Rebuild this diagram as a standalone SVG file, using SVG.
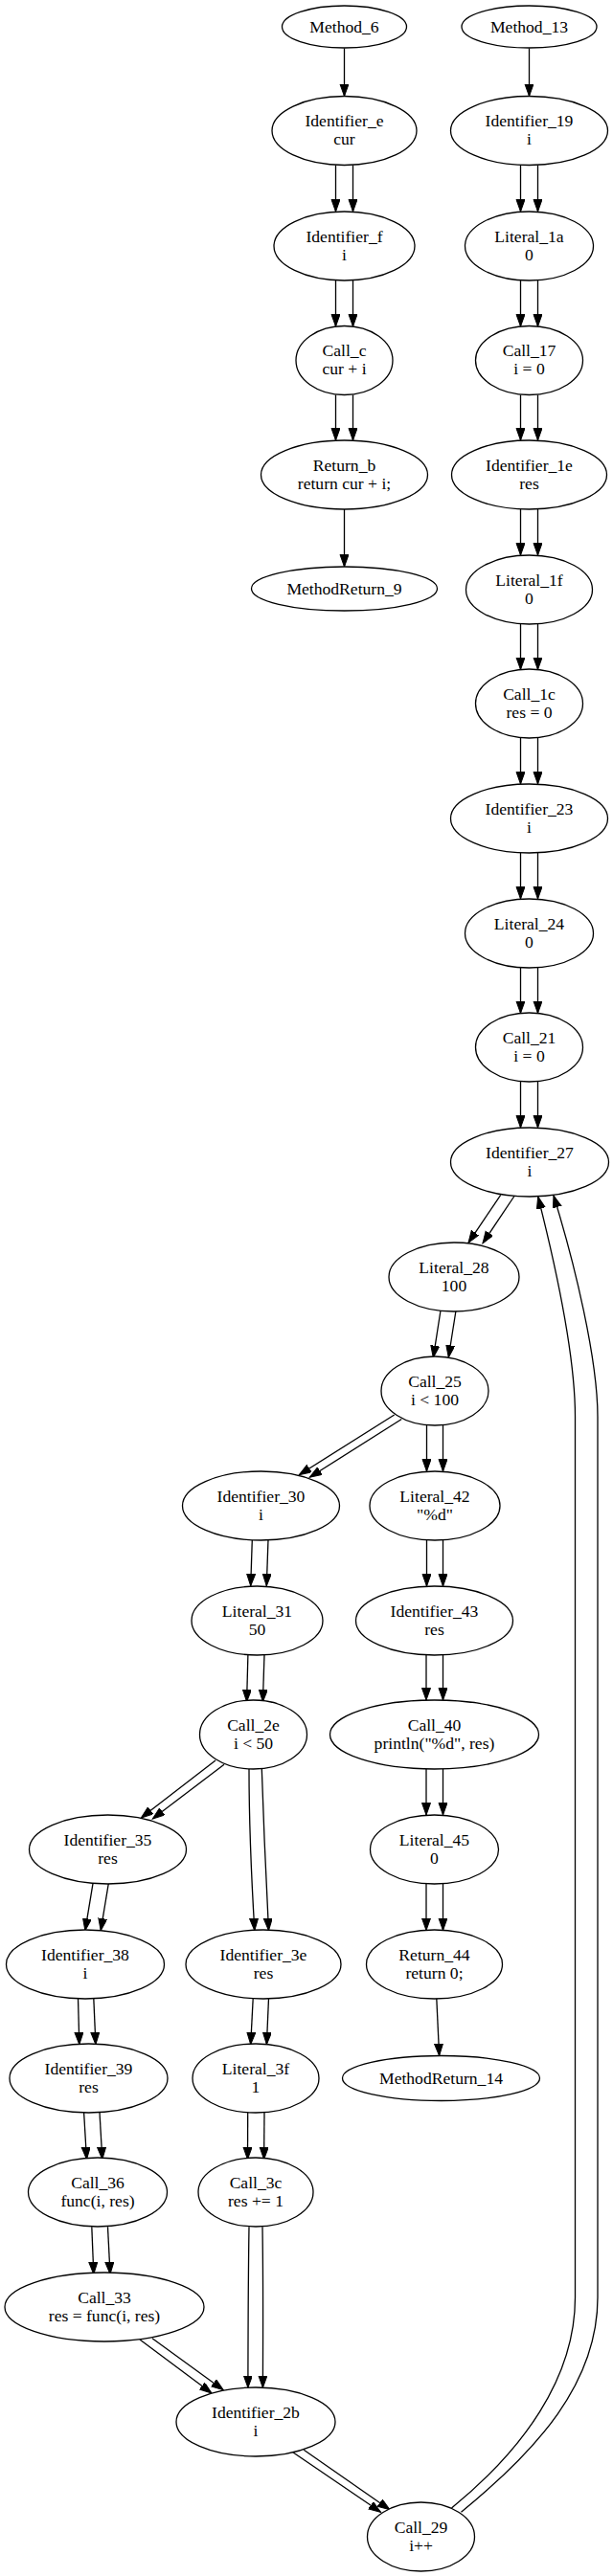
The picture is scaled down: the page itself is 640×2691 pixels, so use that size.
<svg xmlns="http://www.w3.org/2000/svg" width="640" height="2691" viewBox="0 0 640 2691">
<style>
.n ellipse{fill:#fff;stroke:#000;stroke-width:1.3}
.n text{font-family:"Liberation Serif","Times New Roman",serif;font-size:17.6px;text-anchor:middle;fill:#000}
.e line,.e path{fill:none;stroke:#000;stroke-width:1.3;marker-end:url(#ah)}
.e path.nm{marker-end:none}
</style>
<defs>
<marker id="ah" markerUnits="userSpaceOnUse" markerWidth="14" markerHeight="10" refX="12.6" refY="4.5" orient="auto" viewBox="0 0 14 10">
<path d="M0,0 L12.6,4.5 L0,9 Z" fill="#000" stroke="#000" stroke-width="1"/>
</marker>
</defs>
<rect width="640" height="2691" fill="#fff"/>
<g id="edges" class="e">
<line x1="359.5" y1="50.5" x2="359.5" y2="100.5"/>
<line x1="350.5" y1="172.5" x2="350.5" y2="221"/><line x1="368.5" y1="172.5" x2="368.5" y2="221"/>
<line x1="350.5" y1="293" x2="350.5" y2="341"/><line x1="368.5" y1="293" x2="368.5" y2="341"/>
<line x1="350.5" y1="412.5" x2="350.5" y2="460"/><line x1="368.5" y1="412.5" x2="368.5" y2="460"/>
<line x1="359.5" y1="532" x2="359.5" y2="592"/>
<line x1="552.5" y1="50.5" x2="552.5" y2="100.5"/>
<line x1="543.5" y1="172.5" x2="543.5" y2="221"/><line x1="561.5" y1="172.5" x2="561.5" y2="221"/>
<line x1="543.5" y1="293" x2="543.5" y2="341"/><line x1="561.5" y1="293" x2="561.5" y2="341"/>
<line x1="543.5" y1="412.5" x2="543.5" y2="460"/><line x1="561.5" y1="412.5" x2="561.5" y2="460"/>
<line x1="543.5" y1="532" x2="543.5" y2="580"/><line x1="561.5" y1="532" x2="561.5" y2="580"/>
<line x1="543.5" y1="652" x2="543.5" y2="699.5"/><line x1="561.5" y1="652" x2="561.5" y2="699.5"/>
<line x1="543.5" y1="771" x2="543.5" y2="819"/><line x1="561.5" y1="771" x2="561.5" y2="819"/>
<line x1="543.5" y1="891" x2="543.5" y2="939"/><line x1="561.5" y1="891" x2="561.5" y2="939"/>
<line x1="543.5" y1="1011" x2="543.5" y2="1058.5"/><line x1="561.5" y1="1011" x2="561.5" y2="1058.5"/>
<line x1="543.5" y1="1130" x2="543.5" y2="1178"/><line x1="561.5" y1="1130" x2="561.5" y2="1178"/>
<line x1="522.7" y1="1248.3" x2="489" y2="1298.3"/><line x1="537.3" y1="1249" x2="504" y2="1298.7"/>
<line x1="460" y1="1369" x2="452.3" y2="1418.3"/><line x1="476" y1="1369" x2="468.3" y2="1418"/>
<line x1="411.7" y1="1478" x2="312.3" y2="1540.7"/><line x1="419.3" y1="1482.5" x2="323.3" y2="1543.3"/>
<line x1="445.5" y1="1489" x2="445.5" y2="1537"/><line x1="462.5" y1="1489" x2="462.5" y2="1537"/>
<line x1="263.3" y1="1608.5" x2="261.7" y2="1656.7"/><line x1="280" y1="1608.5" x2="278.3" y2="1656.7"/>
<line x1="445.5" y1="1609" x2="445.5" y2="1657"/><line x1="462.5" y1="1609" x2="462.5" y2="1657"/>
<line x1="258.9" y1="1728.5" x2="257.6" y2="1777.7"/><line x1="276" y1="1728.5" x2="274.4" y2="1777.7"/>
<line x1="445" y1="1729" x2="445" y2="1776"/><line x1="462.5" y1="1729" x2="462.5" y2="1776"/>
<line x1="225" y1="1839" x2="147.3" y2="1899"/><line x1="234" y1="1843.3" x2="159.3" y2="1900"/>
<path d="M260,1848 C260,1900 263,1970 265.8,2016.7"/><path d="M273.3,1848 C275,1900 278,1970 280.5,2016.7"/>
<line x1="445" y1="1848" x2="445" y2="1896"/><line x1="462.5" y1="1848" x2="462.5" y2="1896"/>
<line x1="97" y1="1967.7" x2="88.9" y2="2016.7"/><line x1="113.3" y1="1967.7" x2="105.2" y2="2016.7"/>
<line x1="445" y1="1967.5" x2="445" y2="2016.5"/><line x1="462.5" y1="1967.5" x2="462.5" y2="2016.5"/>
<line x1="81.5" y1="2087.5" x2="82.8" y2="2135.7"/><line x1="97.8" y1="2087.5" x2="99.9" y2="2135.7"/>
<line x1="264.2" y1="2087.5" x2="261.7" y2="2135.7"/><line x1="280.5" y1="2087.5" x2="278.4" y2="2135.7"/>
<line x1="455.8" y1="2087.5" x2="458.6" y2="2147.5"/>
<line x1="87.6" y1="2206.7" x2="90.5" y2="2255.7"/><line x1="104" y1="2206.7" x2="106.8" y2="2255.7"/>
<line x1="258.7" y1="2206.7" x2="258.5" y2="2255.7"/><line x1="276" y1="2206.7" x2="275.6" y2="2255.7"/>
<line x1="95.8" y1="2326.3" x2="97.8" y2="2375.7"/><line x1="112.5" y1="2326.3" x2="115" y2="2375.7"/>
<path d="M260,2326.3 C259,2390 259,2450 258.9,2494.3"/><path d="M274,2326.3 C275,2390 274.5,2450 274.4,2494.3"/>
<line x1="146" y1="2444" x2="221" y2="2500"/><line x1="159" y1="2442.7" x2="233.2" y2="2496.7"/>
<line x1="305.8" y1="2561.7" x2="397.5" y2="2624.3"/><line x1="317.2" y1="2559.3" x2="406.9" y2="2621.7"/>
<path d="M471.5,2620 C545,2560 600.5,2485 600.5,2400 L600.5,1480 C600.5,1420 582,1330 561.7,1250"/>
<path d="M481.5,2624.3 C560,2560 624,2490 624,2400 L624,1480 C624,1420 600,1320 578,1249"/>
</g>
<g id="Method_6" class="n"><ellipse cx="359.5" cy="28" rx="65" ry="22"/><text x="359.5" y="33.7">Method_6</text></g>
<g id="Identifier_e" class="n"><ellipse cx="359.5" cy="136.5" rx="75.5" ry="36"/><text x="359.5" y="132">Identifier_e</text><text x="359.5" y="151">cur</text></g>
<g id="Identifier_f" class="n"><ellipse cx="359.5" cy="257" rx="73.5" ry="36"/><text x="359.5" y="252.5">Identifier_f</text><text x="359.5" y="271.5">i</text></g>
<g id="Call_c" class="n"><ellipse cx="359.5" cy="376.5" rx="50.5" ry="36"/><text x="359.5" y="372">Call_c</text><text x="359.5" y="391">cur + i</text></g>
<g id="Return_b" class="n"><ellipse cx="359.5" cy="496" rx="87" ry="36"/><text x="359.5" y="491.5">Return_b</text><text x="359.5" y="510.5">return cur + i;</text></g>
<g id="MethodReturn_9" class="n"><ellipse cx="359.5" cy="615" rx="97" ry="23"/><text x="359.5" y="620.7">MethodReturn_9</text></g>
<g id="Method_13" class="n"><ellipse cx="552.5" cy="28" rx="70.5" ry="22"/><text x="552.5" y="33.7">Method_13</text></g>
<g id="Identifier_19" class="n"><ellipse cx="552.5" cy="136.5" rx="82" ry="36"/><text x="552.5" y="132">Identifier_19</text><text x="552.5" y="151">i</text></g>
<g id="Literal_1a" class="n"><ellipse cx="552.5" cy="257" rx="67" ry="36"/><text x="552.5" y="252.5">Literal_1a</text><text x="552.5" y="271.5">0</text></g>
<g id="Call_17" class="n"><ellipse cx="552.5" cy="376.5" rx="56" ry="36"/><text x="552.5" y="372">Call_17</text><text x="552.5" y="391">i = 0</text></g>
<g id="Identifier_1e" class="n"><ellipse cx="552.5" cy="496" rx="81" ry="36"/><text x="552.5" y="491.5">Identifier_1e</text><text x="552.5" y="510.5">res</text></g>
<g id="Literal_1f" class="n"><ellipse cx="552.5" cy="616" rx="66" ry="36"/><text x="552.5" y="611.5">Literal_1f</text><text x="552.5" y="630.5">0</text></g>
<g id="Call_1c" class="n"><ellipse cx="552.5" cy="735" rx="56" ry="36"/><text x="552.5" y="730.5">Call_1c</text><text x="552.5" y="749.5">res = 0</text></g>
<g id="Identifier_23" class="n"><ellipse cx="552.5" cy="855" rx="82" ry="36"/><text x="552.5" y="850.5">Identifier_23</text><text x="552.5" y="869.5">i</text></g>
<g id="Literal_24" class="n"><ellipse cx="552.5" cy="975" rx="67" ry="36"/><text x="552.5" y="970.5">Literal_24</text><text x="552.5" y="989.5">0</text></g>
<g id="Call_21" class="n"><ellipse cx="552.5" cy="1094" rx="56" ry="36"/><text x="552.5" y="1089.5">Call_21</text><text x="552.5" y="1108.5">i = 0</text></g>
<g id="Identifier_27" class="n"><ellipse cx="553" cy="1214" rx="82.5" ry="36"/><text x="553" y="1209.5">Identifier_27</text><text x="553" y="1228.5">i</text></g>
<g id="Literal_28" class="n"><ellipse cx="474" cy="1334" rx="68" ry="36"/><text x="474" y="1329.5">Literal_28</text><text x="474" y="1348.5">100</text></g>
<g id="Call_25" class="n"><ellipse cx="454" cy="1453" rx="56" ry="36"/><text x="454" y="1448.5">Call_25</text><text x="454" y="1467.5">i &lt; 100</text></g>
<g id="Identifier_30" class="n"><ellipse cx="272.5" cy="1573" rx="82" ry="36"/><text x="272.5" y="1568.5">Identifier_30</text><text x="272.5" y="1587.5">i</text></g>
<g id="Literal_42" class="n"><ellipse cx="454" cy="1573" rx="68" ry="36"/><text x="454" y="1568.5">Literal_42</text><text x="454" y="1587.5">"%d"</text></g>
<g id="Literal_31" class="n"><ellipse cx="268.5" cy="1693" rx="68.5" ry="36"/><text x="268.5" y="1688.5">Literal_31</text><text x="268.5" y="1707.5">50</text></g>
<g id="Identifier_43" class="n"><ellipse cx="453.5" cy="1693" rx="82" ry="36"/><text x="453.5" y="1688.5">Identifier_43</text><text x="453.5" y="1707.5">res</text></g>
<g id="Call_2e" class="n"><ellipse cx="264.5" cy="1812" rx="56" ry="36"/><text x="264.5" y="1807.5">Call_2e</text><text x="264.5" y="1826.5">i &lt; 50</text></g>
<g id="Call_40" class="n"><ellipse cx="453.5" cy="1812" rx="109" ry="36"/><text x="453.5" y="1807.5">Call_40</text><text x="453.5" y="1826.5">println("%d", res)</text></g>
<g id="Identifier_35" class="n"><ellipse cx="112.5" cy="1932" rx="82" ry="36"/><text x="112.5" y="1927.5">Identifier_35</text><text x="112.5" y="1946.5">res</text></g>
<g id="Literal_45" class="n"><ellipse cx="453.5" cy="1932" rx="67" ry="36"/><text x="453.5" y="1927.5">Literal_45</text><text x="453.5" y="1946.5">0</text></g>
<g id="Identifier_38" class="n"><ellipse cx="89" cy="2052" rx="82.5" ry="36"/><text x="89" y="2047.5">Identifier_38</text><text x="89" y="2066.5">i</text></g>
<g id="Identifier_3e" class="n"><ellipse cx="275" cy="2052" rx="81" ry="36"/><text x="275" y="2047.5">Identifier_3e</text><text x="275" y="2066.5">res</text></g>
<g id="Return_44" class="n"><ellipse cx="453.5" cy="2052" rx="71" ry="36"/><text x="453.5" y="2047.5">Return_44</text><text x="453.5" y="2066.5">return 0;</text></g>
<g id="Identifier_39" class="n"><ellipse cx="92.5" cy="2171" rx="82.5" ry="36"/><text x="92.5" y="2166.5">Identifier_39</text><text x="92.5" y="2185.5">res</text></g>
<g id="Literal_3f" class="n"><ellipse cx="267" cy="2171" rx="66" ry="36"/><text x="267" y="2166.5">Literal_3f</text><text x="267" y="2185.5">1</text></g>
<g id="MethodReturn_14" class="n"><ellipse cx="460.5" cy="2171" rx="103" ry="23.5"/><text x="460.5" y="2176.7">MethodReturn_14</text></g>
<g id="Call_36" class="n"><ellipse cx="102" cy="2290" rx="72.5" ry="36"/><text x="102" y="2285.5">Call_36</text><text x="102" y="2304.5">func(i, res)</text></g>
<g id="Call_3c" class="n"><ellipse cx="267" cy="2290" rx="60" ry="36"/><text x="267" y="2285.5">Call_3c</text><text x="267" y="2304.5">res += 1</text></g>
<g id="Call_33" class="n"><ellipse cx="109" cy="2410" rx="104" ry="36"/><text x="109" y="2405.5">Call_33</text><text x="109" y="2424.5">res = func(i, res)</text></g>
<g id="Identifier_2b" class="n"><ellipse cx="267" cy="2530" rx="83" ry="36"/><text x="267" y="2525.5">Identifier_2b</text><text x="267" y="2544.5">i</text></g>
<g id="Call_29" class="n"><ellipse cx="439.5" cy="2650" rx="56" ry="36"/><text x="439.5" y="2645.5">Call_29</text><text x="439.5" y="2664.5">i++</text></g>
</svg>
